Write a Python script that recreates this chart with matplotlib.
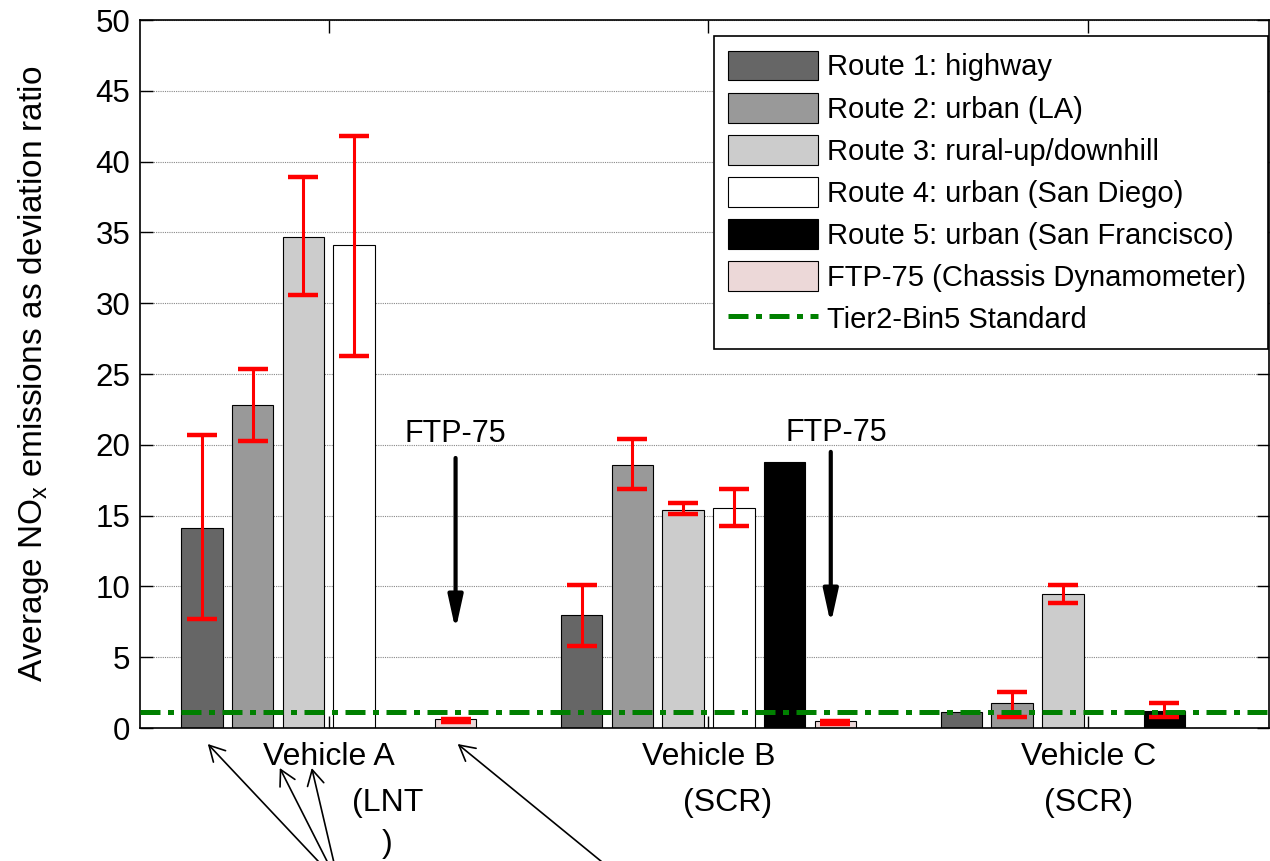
import matplotlib
matplotlib.use('Agg')
import matplotlib.pyplot as plt
import numpy as np

plt.rcParams['font.family'] = ['Liberation Sans', 'DejaVu Sans']
plt.rcParams['mathtext.fontset'] = 'custom'
plt.rcParams['mathtext.rm'] = 'Liberation Sans'
plt.rcParams['mathtext.it'] = 'Liberation Sans'

# dane
pojazdy = ['Vehicle A', 'Vehicle B', 'Vehicle C']
drugie = ['(LNT\n)', '(SCR)', '(SCR)']

etykiety = ['Route 1: highway', 'Route 2: urban (LA)', 'Route 3: rural-up/downhill',
            'Route 4: urban (San Diego)', 'Route 5: urban (San Francisco)',
            'FTP-75 (Chassis Dynamometer)']
route1 = [14.1, 8.0, 1.1]
route2 = [22.8, 18.6, 1.75]
route3 = [34.7, 15.4, 9.45]
route4 = [34.1, 15.55, 0.0]
route5 = [0.0, 18.8, 1.2]
ftp75 = [0.61, 0.47, 0.0]

# koniec dolny / gorny slupka bledu (nan = brak)
low1 = [7.7, 5.8, np.nan]
high1 = [20.7, 10.1, np.nan]
low2 = [20.3, 16.9, 0.8]
high2 = [25.35, 20.4, 2.55]
low3 = [30.6, 15.1, 8.85]
high3 = [38.9, 15.9, 10.1]
low4 = [26.3, 14.3, np.nan]
high4 = [41.8, 16.9, np.nan]
low5 = [np.nan, np.nan, 0.75]
high5 = [np.nan, np.nan, 1.75]
lowf = [0.45, 0.3, np.nan]
highf = [0.64, 0.47, np.nan]

tier2 = 1.1

kolory = ['#666666', '#999999', '#cccccc', '#ffffff', '#000000', '#ecd8d8']
serie = [route1, route2, route3, route4, route5, ftp75]
dolne = [low1, low2, low3, low4, low5, lowf]
gorne = [high1, high2, high3, high4, high5, highf]

fig = plt.figure(figsize=(12.7, 8.61), dpi=100)
ax = fig.add_axes([140 / 1270, 133 / 861, 1129 / 1270, 708 / 861])

x = np.arange(1, len(pojazdy) + 1)
krok = 0.1337
width = 0.109

uchwyty = []
for i, (v, lo, hi) in enumerate(zip(serie, dolne, gorne)):
    pos = x + (i - 2.5) * krok
    v = np.array(v)
    rec = ax.bar(pos, v, width, color=kolory[i], edgecolor='black', linewidth=0.8,
                 label=etykiety[i], zorder=2)
    uchwyty.append(rec)
    lo = np.array(lo)
    hi = np.array(hi)
    ok = ~np.isnan(lo)
    ax.errorbar(pos[ok], v[ok], yerr=[v[ok] - lo[ok], hi[ok] - v[ok]], fmt='none',
                ecolor='red', elinewidth=2.2, capsize=11, capthick=3.2, zorder=3)

linia = ax.axhline(tier2, color='#008000', lw=3.6, ls=(0, (4, 1.5, 1.2, 1.5)),
                   label='Tier2-Bin5 Standard', zorder=4)
uchwyty.append(linia)

ax.set_xlim(0.503, 3.476)
ax.set_ylim(0, 50)
ax.set_yticks(np.arange(0, 51, 5))
ax.set_xticks(x, pojazdy)
ax.yaxis.grid(True, linestyle=(0, (1, 1)), color='#888888', linewidth=0.8)
ax.set_axisbelow(True)
ax.tick_params(direction='in', length=9, width=1, top=True, right=True)
ax.tick_params(axis='y', labelsize=22.5, pad=7)
ax.tick_params(axis='x', labelsize=23, pad=10)
for s in ax.spines.values():
    s.set_linewidth(1.2)

for xi, t in zip(x, drugie):
    dx = 0.155 if 'LNT' in t else (0.05 if xi == 2 else 0.0)
    ax.text(xi + dx, -0.085, t, transform=ax.get_xaxis_transform(), ha='center',
            va='top', fontsize=23, linespacing=1.48, clip_on=False)

ax.set_ylabel(r'Average NO$_{\mathrm{x}}$ emissions as deviation ratio', fontsize=24)
ax.yaxis.set_label_coords(-0.079, 0.5)

# FTP-75 strzalki
for xa, y0, y1 in [(1.334, 19.07, 6.92), (2.322, 19.5, 7.34)]:
    ax.annotate('', xy=(xa, y1), xytext=(xa, y0),
                arrowprops=dict(arrowstyle='-|>,head_length=1.0,head_width=0.22',
                                lw=3, color='black', mutation_scale=20,
                                shrinkA=0, shrinkB=0))
ax.text(1.334, 20.22, 'FTP-75', ha='center', va='baseline', fontsize=22)
ax.text(2.337, 20.27, 'FTP-75', ha='center', va='baseline', fontsize=22)


def px(xp, yp):
    return 1 + (xp - 329) / 380.0, (728 - yp) / 14.16


for tip, tail in [((208, 744), (355, 900)), ((280, 768), (347, 900)),
                  ((312, 768), (343, 900)), ((458, 744), (649, 900))]:
    ax.annotate('', xy=px(*tip), xytext=px(*tail), annotation_clip=False,
                arrowprops=dict(arrowstyle='->,head_length=0.55,head_width=0.3',
                                lw=1.2, color='black', mutation_scale=20,
                                shrinkA=0, shrinkB=0))

leg = ax.legend(uchwyty, etykiety + ['Tier2-Bin5 Standard'],
                loc='upper left', bbox_to_anchor=(0.508, 0.5, 0.491, 0.4774),
                mode='expand', borderaxespad=0,
                fontsize=21, handlelength=3.08, handleheight=1.2, handletextpad=0.3,
                labelspacing=0.39, borderpad=0.5, fancybox=False, framealpha=1,
                edgecolor='black')
leg.get_frame().set_linewidth(1.2)

fig.savefig('out.png', dpi=100)
